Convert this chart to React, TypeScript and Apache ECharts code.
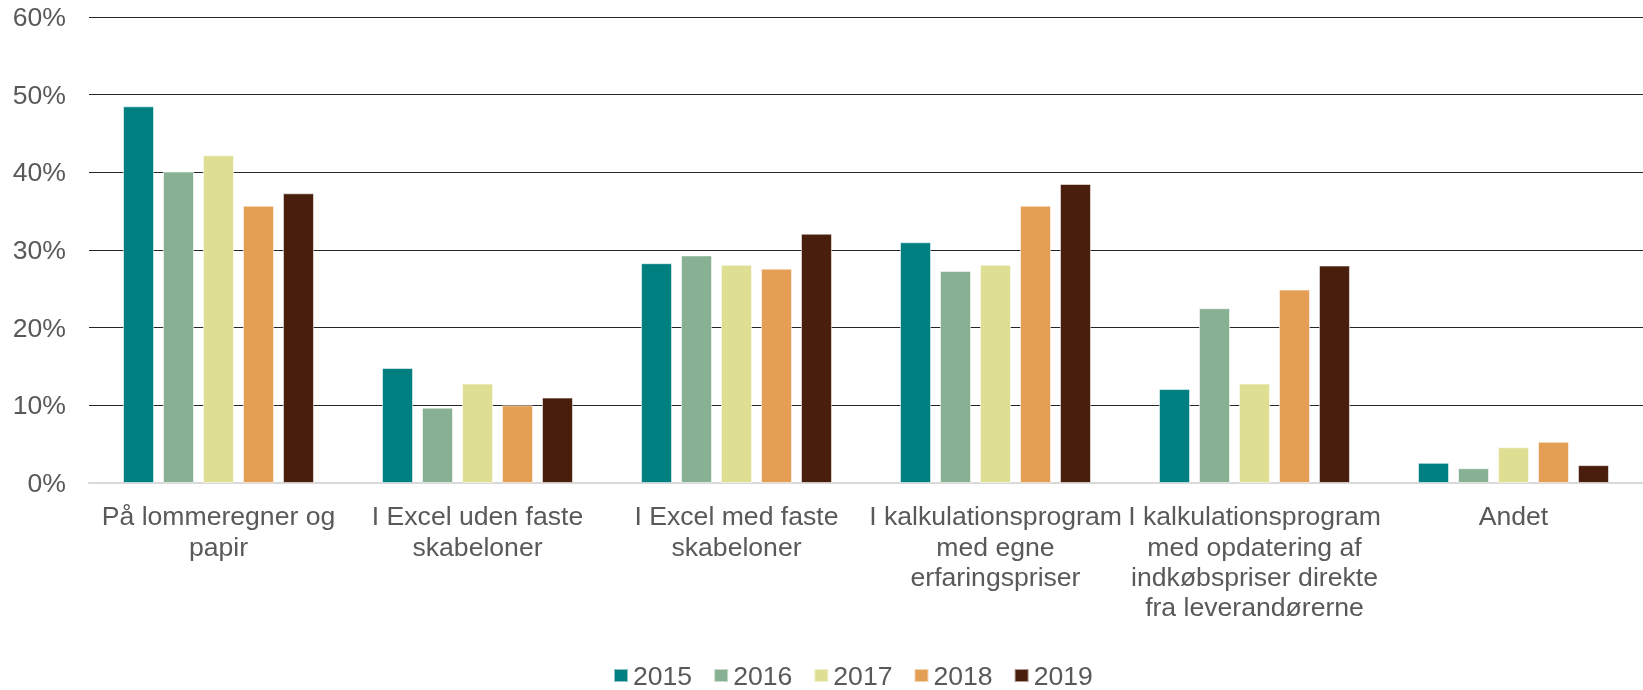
import React, { useEffect, useRef } from "react";
import * as echarts from "echarts";

const categories = [
  "På lommeregner og\npapir",
  "I Excel uden faste\nskabeloner",
  "I Excel med faste\nskabeloner",
  "I kalkulationsprogram\nmed egne\nerfaringspriser",
  "I kalkulationsprogram\nmed opdatering af\nindkøbspriser direkte\nfra leverandørerne",
  "Andet",
];

const years = ["2015", "2016", "2017", "2018", "2019"];
const colors = ["#007F80", "#88B092", "#DEDF93", "#E49F55", "#4A1E0C"];

const values2015 = [48.5, 14.8, 28.3, 31.0, 12.1, 2.6];
const values2016 = [40.1, 9.7, 29.3, 27.3, 22.5, 1.9];
const values2017 = [42.2, 12.8, 28.1, 28.1, 12.8, 4.6];
const values2018 = [35.7, 10.0, 27.6, 35.7, 24.9, 5.3];
const values2019 = [37.3, 11.0, 32.1, 38.5, 28.0, 2.3];

const seriesValues = [values2015, values2016, values2017, values2018, values2019];

const FONT = "'Liberation Sans', Arial, sans-serif";
const TEXT = "#595959";
const FS = 26.6;

export default function App() {
  const ref = useRef<HTMLDivElement>(null);

  useEffect(() => {
    if (!ref.current) return;
    const chart = echarts.init(ref.current, undefined, { renderer: "svg" });
    chart.setOption({
      animation: false,
      textStyle: { fontFamily: FONT },
      grid: { left: 89, right: -16, top: 17, bottom: 207, containLabel: false },
      legend: {
        data: years,
        left: 608,
        top: 657,
        icon: "rect",
        itemWidth: 14,
        itemHeight: 13,
        itemGap: 21,
        textStyle: { fontSize: FS, color: TEXT, fontFamily: FONT, lineHeight: 26 },
      },
      xAxis: {
        type: "category",
        data: categories,
        axisLine: { show: true, lineStyle: { color: "#d9d9d9", width: 2 } },
        axisTick: { show: false },
        axisLabel: {
          interval: 0,
          fontSize: FS,
          color: TEXT,
          fontFamily: FONT,
          lineHeight: 30.4,
          margin: 18,
          align: "center",
        },
      },
      yAxis: {
        type: "value",
        min: 0,
        max: 60,
        interval: 10,
        axisLine: { show: false },
        axisTick: { show: false },
        splitLine: { show: true, lineStyle: { color: "#262626", width: 1 } },
        axisLabel: {
          formatter: "{value}%",
          fontSize: FS,
          color: TEXT,
          fontFamily: FONT,
          margin: 23,
        },
      },
      series: years.map((y, i) => ({
        name: y,
        type: "bar",
        data: seriesValues[i],
        barWidth: 31,
        barGap: "29%",
        itemStyle: {
          color: colors[i],
          borderColor: "rgba(255,255,255,0.55)",
          borderWidth: 1,
        },
      })),
    });
    return () => chart.dispose();
  }, []);

  return (
    <div
      ref={ref}
      style={{ position: "fixed", left: 0, top: 0, width: 1643, height: 690 }}
    />
  );
}
